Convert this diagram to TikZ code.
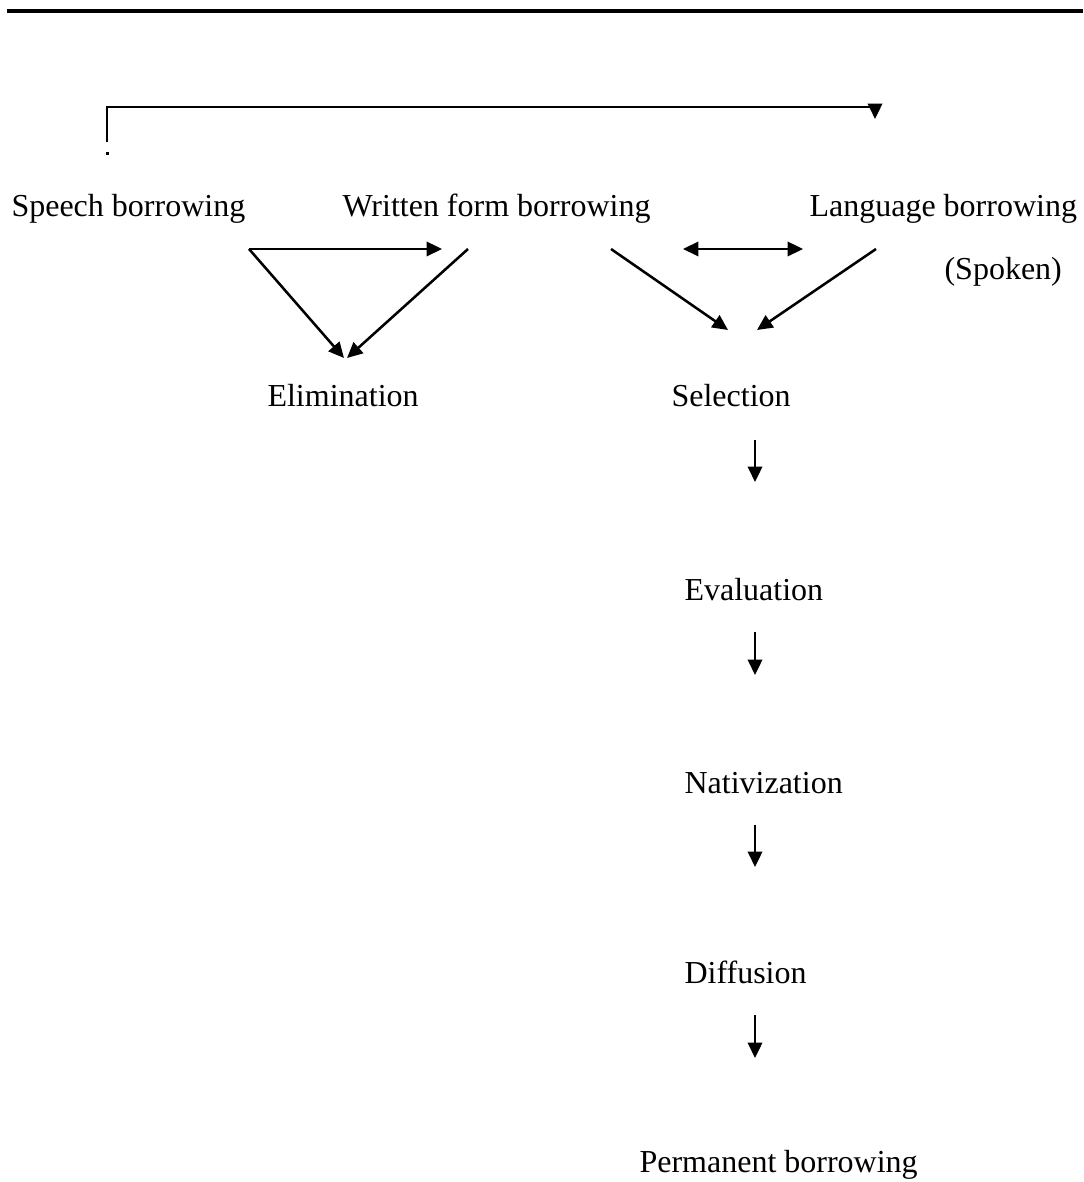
\documentclass[tikz,border=0pt]{standalone}
\usepackage{fontspec}
\setmainfont{Liberation Serif}
\usetikzlibrary{arrows.meta}
\tikzset{
LINE/.style ={draw=black,line join=miter,line cap=butt,line width=0.95pt},
ARR/.style ={LINE,-{Triangle[length=5.8pt,width=5.4pt]}},
DARR/.style ={LINE,{Triangle[length=5.8pt,width=5.4pt]}-{Triangle[length=5.8pt,width=5.4pt]}},
LABEL/.style={inner sep=0pt,anchor=base west,font=\fontsize{12}{14}\selectfont},
}
\begin{document}
\begin{tikzpicture}
[x=0.375pt,y=-0.375pt]
	\useasboundingbox (0,0) rectangle (1083,1182); %page
	%Rule
	\path[LINE,line width=1.3pt] (7,11) -- (1083,11);
	%Labels
	\node[LABEL] (speech) at (11,217) {Speech borrowing};
	\node[LABEL] (written) at (342,217) {Written form borrowing};
	\node[LABEL] (language) at (809,217) {Language borrowing};
	\node[LABEL] (spoken) at (944,280) {(Spoken)};
	\node[LABEL] (elim) at (267,407) {Elimination};
	\node[LABEL] (select) at (671,407) {Selection};
	\node[LABEL] (eval) at (684,600) {Evaluation};
	\node[LABEL] (native) at (684,793) {Nativization};
	\node[LABEL] (diffuse) at (684,983) {Diffusion};
	\node[LABEL] (perm) at (639,1172) {Permanent borrowing};
	%Ends
	\coordinate (brA) at (107,142);
	\coordinate (brB) at (875,119);
	\coordinate (sbOut) at (249,249);
	\coordinate (wfIn) at (442,249);
	\coordinate (wfOut) at (468,249);
	\coordinate (elIn) at (344,358);
	\coordinate (elInB) at (347,358);
	\coordinate (wfOutB) at (611,249);
	\coordinate (seIn) at (728,330);
	\coordinate (seInB) at (757,330);
	\coordinate (lbOut) at (876,249);
	\coordinate (twA) at (683,249);
	\coordinate (twB) at (803,249);
	%Bracket
	\path[ARR] (brA) -- (107,107) -- (875,107) -- (brB);
	\fill (105.5,152.5) rectangle (108.5,155.5);
	%Left triangle
	\path[ARR] (sbOut) -- (wfIn);
	\path[ARR] (sbOut) -- (elIn);
	\path[ARR] (wfOut) -- (elInB);
	%Right part
	\path[ARR] (wfOutB) -- (seIn);
	\path[ARR] (lbOut) -- (seInB);
	\path[DARR] (twA) -- (twB);
	%Chain
	\foreach \a/\b in {440/482,632/675,825/867,1015/1058}
		\path[ARR] (755,\a) -- (755,\b);
\end{tikzpicture}
\end{document}
